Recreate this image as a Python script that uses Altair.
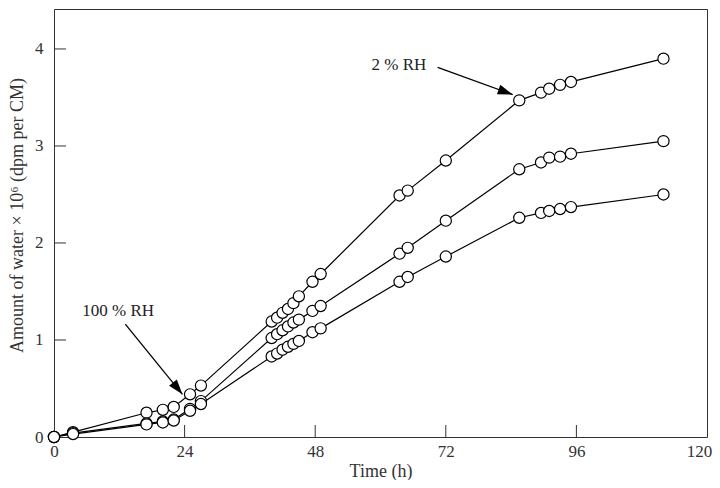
import math
import altair as alt
import pandas as pd

# ---- data ----
time_h = [0, 3.5, 17, 20, 22, 25, 27, 40, 41, 42, 43, 44, 45, 47.5, 49,
          63.5, 65, 72, 85.5, 89.5, 91, 93, 95, 112]
series_top = [0, 0.05, 0.25, 0.28, 0.31, 0.44, 0.53, 1.19, 1.23, 1.28, 1.32, 1.38, 1.45,
              1.60, 1.68, 2.49, 2.54, 2.85, 3.47, 3.55, 3.59, 3.63, 3.66, 3.90]
series_mid = [0, 0.04, 0.14, 0.16, 0.18, 0.29, 0.37, 1.02, 1.06, 1.10, 1.14, 1.18, 1.21,
              1.30, 1.35, 1.89, 1.95, 2.23, 2.76, 2.83, 2.88, 2.89, 2.92, 3.05]
series_bot = [0, 0.03, 0.13, 0.15, 0.17, 0.27, 0.34, 0.83, 0.86, 0.90, 0.93, 0.96, 0.99,
              1.08, 1.12, 1.60, 1.65, 1.86, 2.26, 2.31, 2.33, 2.35, 2.37, 2.50]
series_names = ["s1", "s2", "s3"]

x_tick_labels = [0, 24, 48, 72, 96, 120]
y_tick_labels = [0, 1, 2, 3, 4]
x_inner_ticks = [24, 48, 72, 96]
y_inner_ticks = [1, 2, 3, 4]

annot_text = ["100 % RH", "2 % RH"]
annot_t = [11.8, 63.4]
annot_v = [1.30, 3.835]
arrow_tail_t = [13.1, 70.5]
arrow_tail_v = [1.163, 3.81]
arrow_tip_t = [23.6, 84.3]
arrow_tip_v = [0.44, 3.53]

# ---- layout ----
W, H = 653, 428
XMAX = 120
YMAX = 4.412
px_x = W / XMAX
px_y = H / YMAX

rows = []
for name, vals in zip(series_names, [series_top, series_mid, series_bot]):
    for t, v in zip(time_h, vals):
        rows.append({"series": name, "time": t, "value": v})
df = pd.DataFrame(rows)

arrows = pd.DataFrame({
    "t0": arrow_tail_t, "v0": arrow_tail_v,
    "t1": arrow_tip_t, "v1": arrow_tip_v,
})
arrows["ang"] = [
    math.degrees(math.atan2((a - b) * px_y, (c - d) * px_x)) + 90
    for a, b, c, d in zip(arrow_tail_v, arrow_tip_v, arrow_tip_t, arrow_tail_t)
]
annots = pd.DataFrame({"t": annot_t, "v": annot_v, "label": annot_text})

xs = alt.Scale(domain=[0, XMAX], nice=False, zero=False)
ys = alt.Scale(domain=[0, YMAX], nice=False, zero=False)

FONT = "Liberation Serif"

x_axis = alt.Axis(values=x_tick_labels, title="Time (h)", ticks=False, domain=False,
                  grid=False, labelPadding=6, labelFlush=False,
                  labelOffset={"condition": {"test": f"datum.value == {XMAX}", "value": -8},
                               "value": 0},
                  titleY=39, titleBaseline="alphabetic", titleFontSize=18)
y_axis = alt.Axis(values=y_tick_labels, title="Amount of water × 10⁶ (dpm per CM)",
                  ticks=False, domain=False, grid=False, labelPadding=11,
                  labelFlush=False, titleX=-37, titleY=206, titleAngle=-90,
                  titleAlign="center", titleBaseline="middle", titleFontSize=18)

X = alt.X("time:Q", scale=xs, axis=x_axis)
Y = alt.Y("value:Q", scale=ys, axis=y_axis)

base = alt.Chart(df)

lines = base.mark_line(color="black", strokeWidth=1.2).encode(
    x=X, y=Y, detail="series:N", order="time:Q",
)

points = base.mark_point(shape="circle", filled=True, fill="white", stroke="black",
                         strokeWidth=1.2, size=125, opacity=1).encode(x=X, y=Y)

xt = alt.Chart(pd.DataFrame({"time": x_inner_ticks})).mark_rule(color="#333", strokeWidth=1).encode(
    x=X, y=alt.value(H), y2=alt.value(H - 12),
)
yt = alt.Chart(pd.DataFrame({"value": y_inner_ticks})).mark_rule(color="#333", strokeWidth=1).encode(
    y=Y, x=alt.value(0), x2=alt.value(12),
)

arrow_lines = alt.Chart(arrows).mark_rule(color="black", strokeWidth=1.3).encode(
    x=alt.X("t0:Q", scale=xs, axis=x_axis),
    y=alt.Y("v0:Q", scale=ys, axis=y_axis),
    x2="t1:Q",
    y2="v1:Q",
)
arrow_heads = alt.Chart(arrows).mark_point(
    shape="M0,0L-0.667,2L0.667,2Z", filled=True, color="black", size=225, opacity=1
).encode(
    x=alt.X("t1:Q", scale=xs, axis=x_axis),
    y=alt.Y("v1:Q", scale=ys, axis=y_axis),
    angle=alt.Angle("ang:Q", scale=None),
)

texts = alt.Chart(annots).mark_text(font=FONT, fontSize=17, color="#222",
                                    align="center", baseline="middle").encode(
    x=alt.X("t:Q", scale=xs, axis=x_axis),
    y=alt.Y("v:Q", scale=ys, axis=y_axis),
    text="label:N",
)

chart = alt.layer(lines, points, xt, yt, arrow_lines, arrow_heads, texts).properties(
    width=W, height=H,
    autosize=alt.AutoSizeParams(type="none"),
    padding={"left": 46, "top": 1, "right": 5, "bottom": 43},
    background="white",
).configure_view(
    stroke="#333", strokeWidth=1
).configure_axis(
    labelFont=FONT, labelFontSize=17, labelColor="#333",
    titleFont=FONT, titleColor="#333", titleFontWeight="normal",
)

chart.save("out.html", embed_options={"renderer": "svg", "actions": False})
